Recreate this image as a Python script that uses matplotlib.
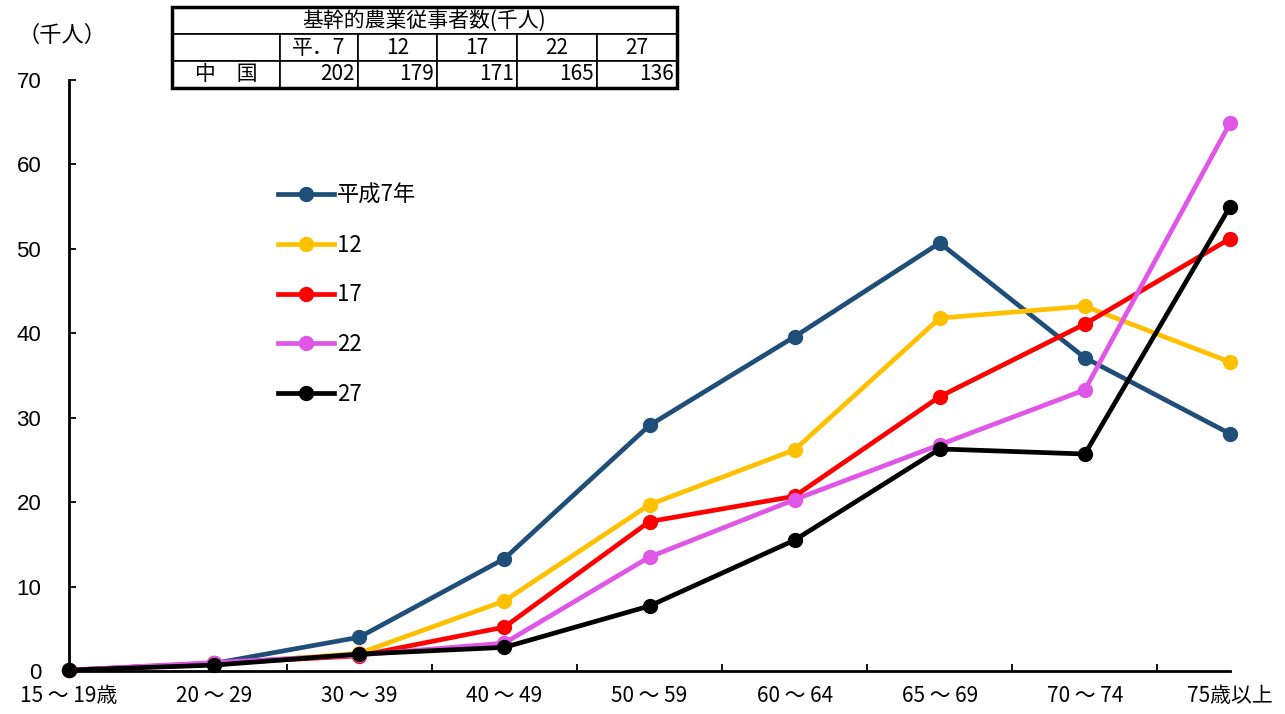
import numpy as np
import matplotlib.pyplot as plt
from matplotlib.patches import Rectangle

plt.rcParams['font.family'] = ['Noto Sans CJK JP', 'DejaVu Sans']

# age groups
ages = ['15 ～ 19歳', '20 ～ 29', '30 ～ 39', '40 ～ 49', '50 ～ 59',
        '60 ～ 64', '65 ～ 69', '70 ～ 74', '75歳以上']

# 基幹的農業従事者数 by age (thousand people)
h7 = [0.1, 0.9, 4.0, 13.3, 29.1, 39.6, 50.7, 37.1, 28.1]
h12 = [0.1, 0.8, 2.1, 8.3, 19.7, 26.2, 41.8, 43.2, 36.6]
h17 = [0.1, 0.9, 1.8, 5.2, 17.7, 20.7, 32.5, 41.1, 51.2]
h22 = [0.1, 1.0, 1.9, 3.3, 13.5, 20.3, 26.8, 33.3, 64.9]
h27 = [0.1, 0.7, 2.0, 2.8, 7.7, 15.5, 26.3, 25.7, 55.0]

series_names = ['平成7年', '12', '17', '22', '27']
colors = ['#1F4E79', '#FFC000', '#FF0000', '#E056E6', '#000000']

# summary table
tbl_title = '基幹的農業従事者数(千人)'
tbl_years = ['平．7', '12', '17', '22', '27']
tbl_region = '中　国'
tbl_totals = ['202', '179', '171', '165', '136']

fig = plt.figure(figsize=(12.85, 7.14), dpi=100)
ax = fig.add_axes([69/1285, 43/714, (1230-69)/1285, (671-80)/714])

x = np.arange(len(ages))
lines = []
for vals, name, c in zip([h7, h12, h17, h22, h27], series_names, colors):
    ln, = ax.plot(x, vals, color=c, lw=3.4, marker='o', ms=10, label=name,
                  clip_on=False)
    lines.append(ln)

ax.set_xlim(0, 8)
ax.set_ylim(0, 70)
ax.set_yticks(np.arange(0, 71, 10))
ax.set_yticklabels([str(v) for v in range(0, 71, 10)], family='Liberation Sans', fontsize=16)
ax.set_xticks(np.arange(1.5, 8, 1))
ax.set_xticklabels([])
ax.set_xticks(x, minor=True)
ax.set_xticklabels(ages, minor=True, fontsize=15)
ax.tick_params(axis='x', which='minor', length=0, pad=10)
ax.tick_params(axis='x', which='major', length=5, direction='in', width=1.3)
ax.tick_params(axis='y', length=5, direction='in', width=1.3, pad=20)
for s in ['top', 'right']:
    ax.spines[s].set_visible(False)
for s in ['left', 'bottom']:
    ax.spines[s].set_linewidth(2)

fig.text(62/1285, 1 - 35/714, '（千人）', fontsize=16, ha='center', va='center')

fig.legend(handles=lines, loc='upper left', bbox_to_anchor=(258/1285, 1 - 164/714),
           frameon=False, fontsize=16, handlelength=2.5, labelspacing=1.2,
           handletextpad=0.15)

# table
tax = fig.add_axes([172/1285, 1 - 88/714, (677-172)/1285, (88-7)/714])
tax.axis('off')
cells = [[''] * 6, [''] + tbl_years, [tbl_region] + tbl_totals]
col_w = np.array([108, 78, 79, 80, 80, 80], dtype=float)
col_w = list(col_w / col_w.sum())
tb = tax.table(cellText=cells, colWidths=col_w, bbox=[0, 0, 1, 1], cellLoc='center')
tb.auto_set_font_size(False)
for (r, c), cell in tb.get_celld().items():
    cell.set_linewidth(1.2)
    cell.get_text().set_fontsize(15)
    if r == 0:
        cell.visible_edges = 'B' + ('L' if c == 0 else '') + ('R' if c == 5 else '')
    if r == 2 and c > 0:
        cell._loc = 'right'
        cell.get_text().set_ha('right')
        cell.PAD = 0.04
tax.text(0.5, 5/6, tbl_title, ha='center', va='center', fontsize=15,
         transform=tax.transAxes)
tax.add_patch(Rectangle((0, 0), 1, 1, transform=tax.transAxes, fill=False,
                        lw=2.5, ec='black', clip_on=False))

fig.savefig('out.png', dpi=100)
